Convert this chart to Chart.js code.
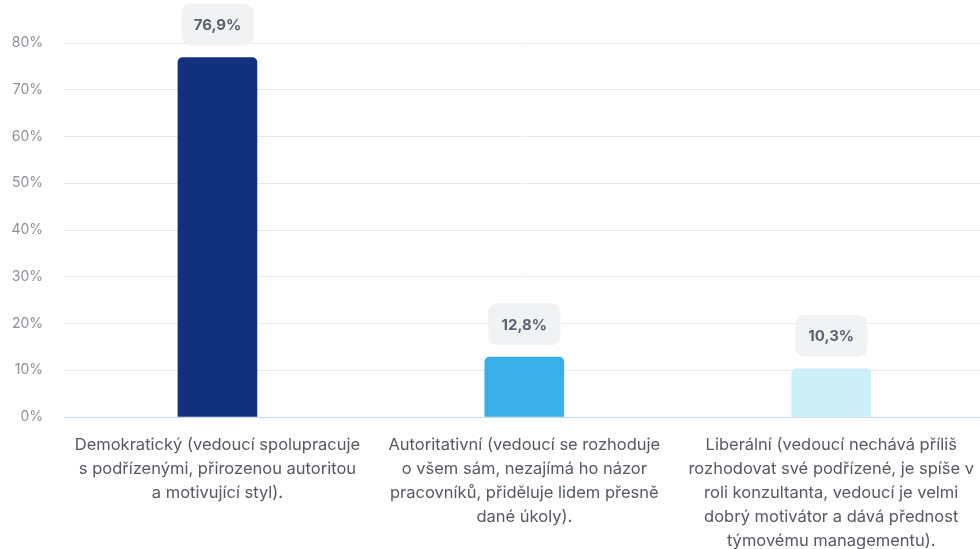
<!DOCTYPE html>
<html>
<head>
<meta charset="utf-8">
<script src="https://cdn.jsdelivr.net/npm/chart.js@4/dist/chart.umd.min.js"></script>
<style>
  html, body { margin: 0; padding: 0; background: #ffffff; overflow: hidden; }
  #wrap { width: 990px; height: 549px; }
</style>
</head>
<body>
<div id="wrap"><canvas id="c" width="990" height="549"></canvas></div>
<script>
const categories = [
  ["Demokratický (vedoucí spolupracuje", "s podřízenými, přirozenou autoritou", "a motivující styl)."],
  ["Autoritativní (vedoucí se rozhoduje", "o všem sám, nezajímá ho názor", "pracovníků, přiděluje lidem přesně", "dané úkoly)."],
  ["Liberální (vedoucí nechává příliš", "rozhodovat své podřízené, je spíše v", "roli konzultanta, vedoucí je velmi", "dobrý motivátor a dává přednost", "týmovému managementu)."]
];
const values = [76.9, 12.8, 10.3];
const valueLabels = ["76,9%", "12,8%", "10,3%"];
const barColors = ["#13307f", "#3aaee6", "#cdeff8"];
const yTicks = [0, 10, 20, 30, 40, 50, 60, 70, 80];

const FONT = "Inter, 'Noto Sans', sans-serif";

const valueBoxes = {
  id: 'valueBoxes',
  afterDatasetsDraw(chart) {
    const ctx = chart.ctx;
    const meta = chart.getDatasetMeta(0);
    ctx.save();
    meta.data.forEach((bar, i) => {
      const w = 72, h = 42, gap = 12;
      const cx = bar.x;
      const bottom = bar.y - gap;
      const top = bottom - h;
      ctx.fillStyle = "#f0f2f3";
      ctx.beginPath();
      ctx.roundRect(cx - w / 2, top, w, h, 9);
      ctx.fill();
      ctx.fillStyle = "#5a6370";
      ctx.font = "bold 15px " + FONT;
      ctx.textAlign = "center";
      ctx.textBaseline = "middle";
      ctx.fillText(valueLabels[i], cx, top + h / 2 + 1);
    });
    ctx.restore();
  }
};

new Chart(document.getElementById('c'), {
  type: 'bar',
  data: {
    labels: categories,
    datasets: [{
      data: values,
      backgroundColor: barColors,
      borderRadius: { topLeft: 5, topRight: 5, bottomLeft: 0, bottomRight: 0 },
      borderSkipped: 'bottom',
      barThickness: 79
    }]
  },
  options: {
    responsive: false,
    animation: false,
    devicePixelRatio: 1,
    layout: { padding: { top: 43, right: 0, bottom: 0, left: 0 } },
    plugins: {
      legend: { display: false },
      tooltip: { enabled: false }
    },
    scales: {
      x: {
        afterFit(scale) { scale.height = 132; },
        grid: { display: false, drawTicks: false },
        border: { display: true, color: "#c9d6f0", width: 1 },
        ticks: {
          color: "#55595f",
          font: { family: FONT, size: 16.5, lineHeight: 24 / 16.5 },
          padding: 16,
          maxRotation: 0,
          minRotation: 0,
          autoSkip: false
        }
      },
      y: {
        min: 0,
        max: 80,
        afterBuildTicks(scale) { scale.ticks = yTicks.map(v => ({ value: v })); },
        afterFit(scale) { scale.width = 64; },
        grid: {
          color: (c) => c.tick && c.tick.value === 0 ? "#c9d6f0" : "#e9e9e9",
          drawTicks: false,
          lineWidth: 1
        },
        border: { display: false },
        ticks: {
          color: "#8c9096",
          font: { family: FONT, size: 14 },
          padding: 21,
          callback: (v) => v + "%"
        }
      }
    }
  },
  plugins: [valueBoxes]
});
</script>
</body>
</html>
